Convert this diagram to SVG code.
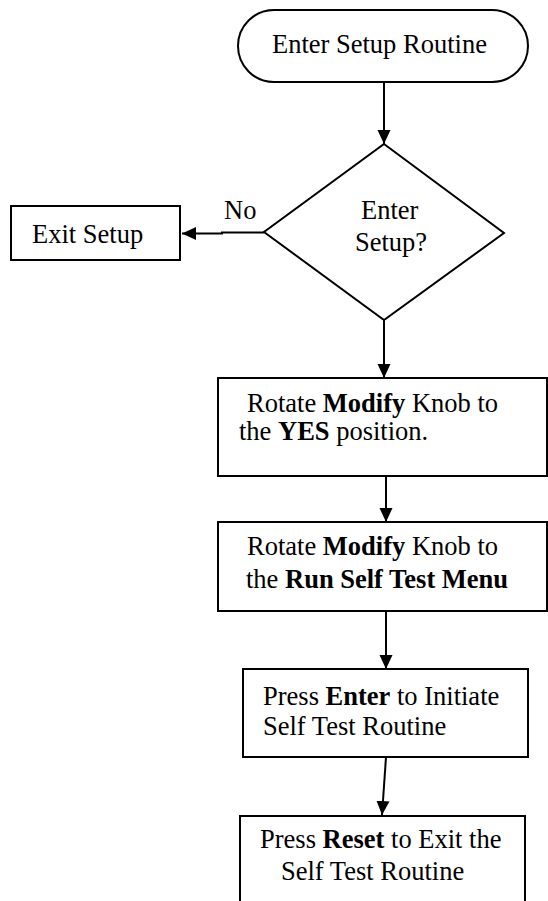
<svg xmlns="http://www.w3.org/2000/svg" width="548" height="901" viewBox="0 0 548 901">
<defs>
<marker id="ah" markerUnits="userSpaceOnUse" markerWidth="14" markerHeight="14" viewBox="0 0 14 14" refX="14" refY="7" orient="auto">
<path d="M0,0.5 L14,7 L0,13.5 Z" fill="#000"/>
</marker>
<style>
.s{fill:#fff;stroke:#000;stroke-width:2}
.t{font-family:"Liberation Serif","Times New Roman",serif;font-size:26.5px;fill:#000}
.b{font-weight:bold}
.c{fill:none;stroke:#000;stroke-width:2}
</style>
</defs>
<rect width="548" height="901" fill="#fff"/>
<g id="connectors">
<path class="c" d="M384,82 L384,144" marker-end="url(#ah)"/>
<path class="c" d="M264,232.5 L222,232.5 L222,233.5 L182,233.5" marker-end="url(#ah)"/>
<path class="c" d="M384,320 L384,378" marker-end="url(#ah)"/>
<path class="c" d="M386,476 L386,522" marker-end="url(#ah)"/>
<path class="c" d="M386,611 L386,669" marker-end="url(#ah)"/>
<path class="c" d="M386,757 L382,815" marker-end="url(#ah)"/>
</g>
<g id="start">
<rect class="s" x="238" y="10" width="290" height="72" rx="36" ry="36"/>
<text class="t" x="272" y="53">Enter Setup Routine</text>
</g>
<g id="decision">
<polygon class="s" points="384,144 504,233 384,320 264,232"/>
<text class="t" x="361" y="219">Enter</text>
<text class="t" x="355" y="251">Setup?</text>
</g>
<g id="no-label">
<text class="t" x="224" y="219">No</text>
</g>
<g id="exit">
<rect class="s" x="11" y="206" width="169" height="54"/>
<text class="t" x="32" y="243">Exit Setup</text>
</g>
<g id="step1">
<rect class="s" x="218" y="378" width="329" height="98"/>
<text class="t" x="247" y="412">Rotate <tspan class="b">Modify</tspan> Knob to</text>
<text class="t" x="239" y="440">the <tspan class="b">YES</tspan> position.</text>
</g>
<g id="step2">
<rect class="s" x="218" y="522" width="329" height="89"/>
<text class="t" x="247" y="555">Rotate <tspan class="b">Modify</tspan> Knob to</text>
<text class="t" x="246" y="588">the <tspan class="b">Run Self Test Menu</tspan></text>
</g>
<g id="step3">
<rect class="s" x="243" y="669" width="285" height="88"/>
<text class="t" x="263" y="705">Press <tspan class="b">Enter</tspan> to Initiate</text>
<text class="t" x="263" y="735">Self Test Routine</text>
</g>
<g id="step4">
<rect class="s" x="240" y="816" width="285" height="100"/>
<text class="t" x="260" y="848">Press <tspan class="b">Reset</tspan> to Exit the</text>
<text class="t" x="281" y="880">Self Test Routine</text>
</g>
</svg>
